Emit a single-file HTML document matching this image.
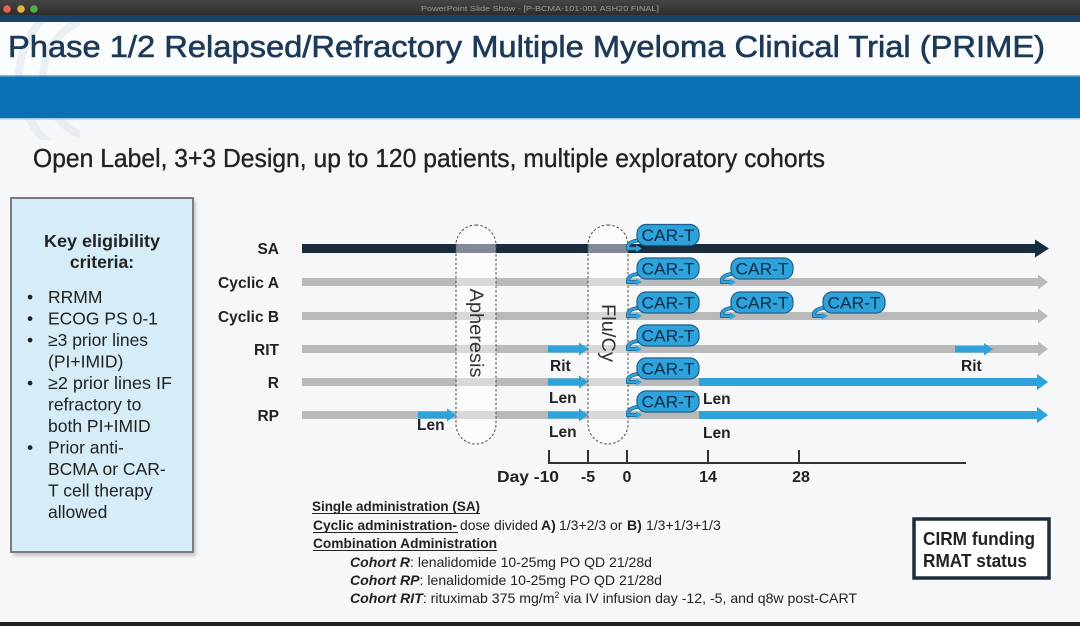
<!DOCTYPE html>
<html><head><meta charset="utf-8"><style>
html,body{margin:0;padding:0;background:#f6f7f8;}
svg{display:block;}
text{font-family:"Liberation Sans",Arial,sans-serif;}
</style></head><body>
<svg width="1080" height="626" viewBox="0 0 1080 626" xmlns="http://www.w3.org/2000/svg">
<defs>
<linearGradient id="tb" x1="0" y1="0" x2="0" y2="1"><stop offset="0" stop-color="#454545"/><stop offset="1" stop-color="#2c2c2c"/></linearGradient>
<clipPath id="arcclip"><rect x="0" y="22" width="80" height="118"/></clipPath>
<filter id="sh" x="-10%" y="-10%" width="130%" height="130%"><feGaussianBlur stdDeviation="1.5"/></filter>
</defs>
<rect x="0" y="0" width="1080" height="626" fill="#f6f7f8"/>
<rect x="0" y="22" width="1080" height="54" fill="#fbfcfd"/>
<g clip-path="url(#arcclip)" fill="none" stroke="#dfe8ef" stroke-width="8" opacity="0.6">
<circle cx="105" cy="78" r="62"/>
<circle cx="105" cy="78" r="86"/>
</g>
<rect x="0" y="0" width="1080" height="16" fill="url(#tb)"/>
<rect x="0" y="15" width="1080" height="7" fill="#1b436a"/>
<circle cx="7" cy="9" r="3.8" fill="#ec5f56"/>
<circle cx="21" cy="9" r="3.8" fill="#e6b33e"/>
<circle cx="34" cy="9" r="3.8" fill="#4fb04a"/>
<text x="421" y="11" font-size="7.5" fill="#9c9c9c" textLength="238" lengthAdjust="spacingAndGlyphs">PowerPoint Slide Show - [P-BCMA-101-001 ASH20 FINAL]</text>
<text x="8" y="57" font-size="30.5" fill="#1c3a57" stroke="#1c3a57" stroke-width="0.6" textLength="1037" lengthAdjust="spacingAndGlyphs">Phase 1/2 Relapsed/Refractory Multiple Myeloma Clinical Trial (PRIME)</text>
<rect x="0" y="75" width="1080" height="44" fill="#0b70b3"/>
<rect x="0" y="75" width="1080" height="1.5" fill="#7fb6dc"/>
<rect x="0" y="118" width="1080" height="1.5" fill="#9cc7e5"/>
<text x="33" y="167" font-size="26" fill="#222" stroke="#222" stroke-width="0.35" textLength="792" lengthAdjust="spacingAndGlyphs">Open Label, 3+3 Design, up to 120 patients, multiple exploratory cohorts</text>

<rect x="13" y="200" width="183" height="356" fill="#9a9a9a" opacity="0.5" filter="url(#sh)"/>
<rect x="11" y="198" width="182" height="354" fill="#d6ecf6" stroke="#7c7c7c" stroke-width="2"/>
<g font-size="17.5" fill="#222">
<text x="102" y="247" text-anchor="middle" font-weight="bold" textLength="116" lengthAdjust="spacingAndGlyphs">Key eligibility</text>
<text x="102" y="268" text-anchor="middle" font-weight="bold">criteria:</text>
<text x="27" y="303">•</text><text x="48" y="303">RRMM</text>
<text x="27" y="324.5">•</text><text x="48" y="324.5">ECOG PS 0-1</text>
<text x="27" y="346">•</text><text x="48" y="346">≥3 prior lines</text>
<text x="48" y="367.5">(PI+IMID)</text>
<text x="27" y="389">•</text><text x="48" y="389" textLength="124" lengthAdjust="spacingAndGlyphs">≥2 prior lines IF</text>
<text x="48" y="410.5">refractory to</text>
<text x="48" y="432">both PI+IMID</text>
<text x="27" y="453.5">•</text><text x="48" y="453.5">Prior anti-</text>
<text x="48" y="475">BCMA or CAR-</text>
<text x="48" y="496.5">T cell therapy</text>
<text x="48" y="518">allowed</text>
</g>

<g font-size="15.5" font-weight="bold" fill="#222" text-anchor="end">
<text x="279" y="254">SA</text>
<text x="279" y="288" textLength="61" lengthAdjust="spacingAndGlyphs">Cyclic A</text>
<text x="279" y="322" textLength="61" lengthAdjust="spacingAndGlyphs">Cyclic B</text>
<text x="279" y="355">RIT</text>
<text x="279" y="388">R</text>
<text x="279" y="421">RP</text>
</g>

<rect x="302" y="244" width="736" height="9" fill="#1b2b3e"/>
<polygon points="1035,239.5 1049,248.5 1035,257.5" fill="#1b2b3e"/>
<g fill="#b9b9b9">
<rect x="302" y="278" width="738" height="8"/><polygon points="1038,274.5 1048,282 1038,289.5"/>
<rect x="302" y="312" width="738" height="8"/><polygon points="1038,308.5 1048,316 1038,323.5"/>
<rect x="302" y="345" width="738" height="8"/><polygon points="1038,341.5 1048,349 1038,356.5"/>
<rect x="302" y="378" width="738" height="8"/><polygon points="1038,374.5 1048,382 1038,389.5"/>
<rect x="302" y="411" width="738" height="8"/><polygon points="1038,407.5 1048,415 1038,422.5"/>
</g>
<g fill="#2ea3db">
<rect x="699" y="378" width="340" height="8"/><polygon points="1037,374 1048,382 1037,390"/>
<rect x="699" y="411" width="340" height="8"/><polygon points="1037,407 1048,415 1037,423"/>
<rect x="548" y="345.5" width="32" height="7"/><polygon points="579,342.5 588,349 579,355.5"/>
<rect x="548" y="378.5" width="32" height="7"/><polygon points="579,375.5 588,382 579,388.5"/>
<rect x="548" y="411.5" width="32" height="7"/><polygon points="579,408.5 588,415 579,421.5"/>
<rect x="418" y="411.5" width="30" height="7"/><polygon points="447,408.5 456,415 447,421.5"/>
<rect x="955" y="346" width="30" height="6.5"/><polygon points="984,343 993,349.2 984,355.5"/>
</g>

<rect x="456" y="225" width="40" height="219" rx="20" ry="20" fill="#ffffff" fill-opacity="0.45" stroke="#4a4a4a" stroke-width="1" stroke-dasharray="2.5,2"/>
<rect x="588" y="225" width="40" height="219" rx="20" ry="20" fill="#ffffff" fill-opacity="0.45" stroke="#4a4a4a" stroke-width="1" stroke-dasharray="2.5,2"/>
<text transform="translate(470,333) rotate(90)" text-anchor="middle" font-size="19" fill="#333" textLength="89" lengthAdjust="spacingAndGlyphs">Apheresis</text>
<text transform="translate(602,333) rotate(90)" text-anchor="middle" font-size="19" fill="#333" textLength="58" lengthAdjust="spacingAndGlyphs">Flu/Cy</text>

<g>
<g transform="translate(637,224.5)">
<path d="M8,15 C-4,16 -10,18 -9,24 L-1,24" fill="none" stroke="#1d5f8a" stroke-width="4"/>
<path d="M8,15 C-4,16 -10,18 -9,24 L0,24" fill="none" stroke="#2ea3db" stroke-width="2.4"/>
<polygon points="-1,20.5 5,24 -1,27.5" fill="#2ea3db"/>
<rect x="0" y="0" width="62" height="21" rx="9" fill="#2ea3db" stroke="#1d5f8a" stroke-width="1.2"/>
<text x="31" y="16.5" text-anchor="middle" font-size="17" fill="#0e2a45" textLength="53" lengthAdjust="spacingAndGlyphs">CAR-T</text>
</g>
<g transform="translate(637,258)">
<path d="M8,15 C-4,16 -10,18 -9,24 L-1,24" fill="none" stroke="#1d5f8a" stroke-width="4"/>
<path d="M8,15 C-4,16 -10,18 -9,24 L0,24" fill="none" stroke="#2ea3db" stroke-width="2.4"/>
<polygon points="-1,20.5 5,24 -1,27.5" fill="#2ea3db"/>
<rect x="0" y="0" width="62" height="21" rx="9" fill="#2ea3db" stroke="#1d5f8a" stroke-width="1.2"/>
<text x="31" y="16.5" text-anchor="middle" font-size="17" fill="#0e2a45" textLength="53" lengthAdjust="spacingAndGlyphs">CAR-T</text>
</g>
<g transform="translate(731,258)">
<path d="M8,15 C-4,16 -10,18 -9,24 L-1,24" fill="none" stroke="#1d5f8a" stroke-width="4"/>
<path d="M8,15 C-4,16 -10,18 -9,24 L0,24" fill="none" stroke="#2ea3db" stroke-width="2.4"/>
<polygon points="-1,20.5 5,24 -1,27.5" fill="#2ea3db"/>
<rect x="0" y="0" width="62" height="21" rx="9" fill="#2ea3db" stroke="#1d5f8a" stroke-width="1.2"/>
<text x="31" y="16.5" text-anchor="middle" font-size="17" fill="#0e2a45" textLength="53" lengthAdjust="spacingAndGlyphs">CAR-T</text>
</g>
<g transform="translate(637,292)">
<path d="M8,15 C-4,16 -10,18 -9,24 L-1,24" fill="none" stroke="#1d5f8a" stroke-width="4"/>
<path d="M8,15 C-4,16 -10,18 -9,24 L0,24" fill="none" stroke="#2ea3db" stroke-width="2.4"/>
<polygon points="-1,20.5 5,24 -1,27.5" fill="#2ea3db"/>
<rect x="0" y="0" width="62" height="21" rx="9" fill="#2ea3db" stroke="#1d5f8a" stroke-width="1.2"/>
<text x="31" y="16.5" text-anchor="middle" font-size="17" fill="#0e2a45" textLength="53" lengthAdjust="spacingAndGlyphs">CAR-T</text>
</g>
<g transform="translate(731,292)">
<path d="M8,15 C-4,16 -10,18 -9,24 L-1,24" fill="none" stroke="#1d5f8a" stroke-width="4"/>
<path d="M8,15 C-4,16 -10,18 -9,24 L0,24" fill="none" stroke="#2ea3db" stroke-width="2.4"/>
<polygon points="-1,20.5 5,24 -1,27.5" fill="#2ea3db"/>
<rect x="0" y="0" width="62" height="21" rx="9" fill="#2ea3db" stroke="#1d5f8a" stroke-width="1.2"/>
<text x="31" y="16.5" text-anchor="middle" font-size="17" fill="#0e2a45" textLength="53" lengthAdjust="spacingAndGlyphs">CAR-T</text>
</g>
<g transform="translate(823,292)">
<path d="M8,15 C-4,16 -10,18 -9,24 L-1,24" fill="none" stroke="#1d5f8a" stroke-width="4"/>
<path d="M8,15 C-4,16 -10,18 -9,24 L0,24" fill="none" stroke="#2ea3db" stroke-width="2.4"/>
<polygon points="-1,20.5 5,24 -1,27.5" fill="#2ea3db"/>
<rect x="0" y="0" width="62" height="21" rx="9" fill="#2ea3db" stroke="#1d5f8a" stroke-width="1.2"/>
<text x="31" y="16.5" text-anchor="middle" font-size="17" fill="#0e2a45" textLength="53" lengthAdjust="spacingAndGlyphs">CAR-T</text>
</g>
<g transform="translate(637,325)">
<path d="M8,15 C-4,16 -10,18 -9,24 L-1,24" fill="none" stroke="#1d5f8a" stroke-width="4"/>
<path d="M8,15 C-4,16 -10,18 -9,24 L0,24" fill="none" stroke="#2ea3db" stroke-width="2.4"/>
<polygon points="-1,20.5 5,24 -1,27.5" fill="#2ea3db"/>
<rect x="0" y="0" width="62" height="21" rx="9" fill="#2ea3db" stroke="#1d5f8a" stroke-width="1.2"/>
<text x="31" y="16.5" text-anchor="middle" font-size="17" fill="#0e2a45" textLength="53" lengthAdjust="spacingAndGlyphs">CAR-T</text>
</g>
<g transform="translate(637,358)">
<path d="M8,15 C-4,16 -10,18 -9,24 L-1,24" fill="none" stroke="#1d5f8a" stroke-width="4"/>
<path d="M8,15 C-4,16 -10,18 -9,24 L0,24" fill="none" stroke="#2ea3db" stroke-width="2.4"/>
<polygon points="-1,20.5 5,24 -1,27.5" fill="#2ea3db"/>
<rect x="0" y="0" width="62" height="21" rx="9" fill="#2ea3db" stroke="#1d5f8a" stroke-width="1.2"/>
<text x="31" y="16.5" text-anchor="middle" font-size="17" fill="#0e2a45" textLength="53" lengthAdjust="spacingAndGlyphs">CAR-T</text>
</g>
<g transform="translate(637,391)">
<path d="M8,15 C-4,16 -10,18 -9,24 L-1,24" fill="none" stroke="#1d5f8a" stroke-width="4"/>
<path d="M8,15 C-4,16 -10,18 -9,24 L0,24" fill="none" stroke="#2ea3db" stroke-width="2.4"/>
<polygon points="-1,20.5 5,24 -1,27.5" fill="#2ea3db"/>
<rect x="0" y="0" width="62" height="21" rx="9" fill="#2ea3db" stroke="#1d5f8a" stroke-width="1.2"/>
<text x="31" y="16.5" text-anchor="middle" font-size="17" fill="#0e2a45" textLength="53" lengthAdjust="spacingAndGlyphs">CAR-T</text>
</g>
</g>

<g font-size="15.5" font-weight="bold" fill="#222">
<text x="550" y="371">Rit</text>
<text x="549" y="403">Len</text>
<text x="549" y="437">Len</text>
<text x="417" y="430">Len</text>
<text x="703" y="404">Len</text>
<text x="703" y="438">Len</text>
<text x="961" y="371">Rit</text>
</g>

<g stroke="#333" stroke-width="2">
<line x1="548" y1="463" x2="966" y2="463"/>
<line x1="549" y1="450" x2="549" y2="463"/>
<line x1="588" y1="450" x2="588" y2="463"/>
<line x1="627" y1="450" x2="627" y2="463"/>
<line x1="708" y1="450" x2="708" y2="463"/>
<line x1="799" y1="450" x2="799" y2="463"/>
</g>
<g font-size="16" font-weight="bold" fill="#222">
<text x="497" y="482" textLength="62" lengthAdjust="spacingAndGlyphs">Day -10</text>
<text x="588" y="482" text-anchor="middle">-5</text>
<text x="627" y="482" text-anchor="middle">0</text>
<text x="708" y="482" text-anchor="middle">14</text>
<text x="801" y="482" text-anchor="middle">28</text>
</g>

<g font-size="14" fill="#222">
<text x="312" y="511" font-weight="bold" textLength="168" lengthAdjust="spacingAndGlyphs">Single administration (SA)</text>
<line x1="312" y1="513.5" x2="480" y2="513.5" stroke="#222" stroke-width="1"/>
<text x="313" y="530" font-weight="bold" textLength="144" lengthAdjust="spacingAndGlyphs">Cyclic administration-</text>
<line x1="313" y1="532.5" x2="458" y2="532.5" stroke="#222" stroke-width="1"/>
<text x="460" y="530" textLength="78" lengthAdjust="spacingAndGlyphs">dose divided</text>
<text x="541" y="530" font-weight="bold">A)</text>
<text x="559" y="530">1/3+2/3 or</text>
<text x="627" y="530" font-weight="bold">B)</text>
<text x="646" y="530">1/3+1/3+1/3</text>
<text x="313" y="548" font-weight="bold" textLength="184" lengthAdjust="spacingAndGlyphs">Combination Administration</text>
<line x1="313" y1="550.5" x2="497" y2="550.5" stroke="#222" stroke-width="1"/>
<text x="350" y="567" textLength="302" lengthAdjust="spacingAndGlyphs"><tspan font-weight="bold" font-style="italic">Cohort R</tspan>: lenalidomide 10-25mg PO QD 21/28d</text>
<text x="350" y="585" textLength="312" lengthAdjust="spacingAndGlyphs"><tspan font-weight="bold" font-style="italic">Cohort RP</tspan>: lenalidomide 10-25mg PO QD 21/28d</text>
<text x="350" y="603" textLength="507" lengthAdjust="spacingAndGlyphs"><tspan font-weight="bold" font-style="italic">Cohort RIT</tspan>: rituximab 375 mg/m<tspan font-size="9" dy="-5">2</tspan><tspan dy="5"> via IV infusion day -12, -5, and q8w post-CART</tspan></text>
</g>

<rect x="914" y="519" width="135" height="59" fill="#ffffff" stroke="#1e2d3c" stroke-width="3.5"/>
<g font-size="18" font-weight="bold" fill="#222">
<text x="923" y="545" textLength="112" lengthAdjust="spacingAndGlyphs">CIRM funding</text>
<text x="923" y="567" textLength="104" lengthAdjust="spacingAndGlyphs">RMAT status</text>
</g>

<rect x="0" y="622" width="1080" height="4" fill="#222"/>
</svg>
</body></html>
